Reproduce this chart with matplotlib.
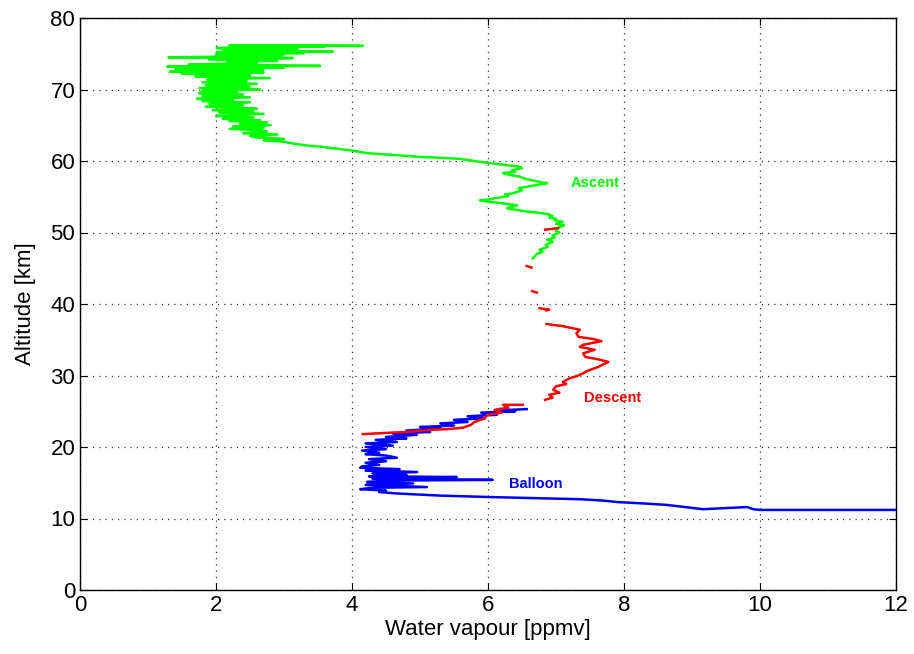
import numpy as np
import matplotlib
matplotlib.use("Agg")
import matplotlib.pyplot as plt

# Ascent (green): altitude [km], water vapour [ppmv]
asc_alt = [46.4, 47.0, 47.3, 47.6, 48.0, 48.3, 48.7, 49.0, 49.3, 49.6, 50.0, 50.2, 50.6, 51.0,
           51.2, 51.5, 51.7, 51.9, 52.1, 52.3, 52.6, 52.8, 52.9, 53.1, 53.2, 53.4, 53.6, 53.8,
           54.1, 54.3, 54.5, 54.6, 54.8, 55.1, 55.3, 55.5, 55.9, 56.2, 56.4, 56.7, 56.9, 57.0,
           57.2, 57.5, 57.8, 58.1, 58.3, 58.5, 58.7, 59.0, 59.2, 59.5, 59.7, 60.0, 60.3, 60.6,
           60.8, 61.1, 61.5, 62.0, 62.2, 62.5,
           62.7, 62.9, 63.1, 63.3, 63.5, 63.7, 63.9, 64.1, 64.3, 64.5, 64.7, 64.8, 65.0, 65.2,
           65.4, 65.6, 65.7, 65.9, 66.1, 66.3, 66.4, 66.6, 66.8, 66.9, 67.1, 67.3, 67.4, 67.6,
           67.8, 68.0, 68.2, 68.4, 68.5, 68.7, 68.9, 69.1, 69.3, 69.5, 69.6, 69.8, 70.0, 70.2,
           70.4, 70.6, 70.8, 71.0, 71.2, 71.4, 71.6, 71.8, 72.0, 72.2, 72.4, 72.5, 72.7, 72.9,
           73.1, 73.2, 73.3, 73.5, 73.7, 73.9, 74.0, 74.2, 74.4, 74.5, 74.7, 74.9, 75.1, 75.2,
           75.3, 75.5, 75.7, 75.8, 76.0, 76.1, 76.1, 76.2]
asc_h2o = [6.66, 6.72, 6.80, 6.76, 6.88, 6.85, 6.95, 6.87, 6.98, 6.95, 7.05, 7.00, 7.02, 7.12,
           7.00, 7.10, 6.98, 7.00, 6.90, 6.95, 6.87, 6.70, 6.60, 6.45, 6.40, 6.28, 6.36, 6.43,
           6.20, 6.00, 5.88, 6.00, 6.10, 6.30, 6.25, 6.37, 6.50, 6.45, 6.57, 6.75, 6.87, 6.80,
           6.70, 6.55, 6.47, 6.30, 6.22, 6.40, 6.35, 6.50, 6.47, 6.20, 6.03, 5.80, 5.59, 4.96,
           4.66, 4.22, 3.97, 3.53, 3.30, 3.10,
           2.99, 2.70, 3.00, 2.60, 2.50, 2.90, 2.40, 2.75, 2.65, 2.20, 2.70, 2.25, 2.80, 2.35,
           2.75, 2.20, 2.65, 2.10, 2.55, 2.00, 2.21, 2.70, 2.05, 2.55, 1.95, 2.60, 2.46, 1.85,
           2.40, 1.90, 2.50, 1.80, 2.25, 1.72, 2.50, 1.80, 2.40, 1.75, 2.31, 1.80, 2.65, 1.76,
           2.50, 1.85, 2.60, 1.80, 2.45, 1.87, 2.79, 1.70, 2.50, 1.50, 2.70, 1.32, 2.69, 1.40,
           3.00, 1.28, 3.53, 1.60, 2.60, 2.16, 2.90, 1.90, 3.13, 1.30, 2.99, 2.00, 3.30, 2.01,
           3.72, 2.10, 3.20, 2.01, 3.60, 2.30, 4.16, 2.20]

# Descent (red): NaN separates the data gaps
des_alt = [50.4, 50.6, np.nan, 45.3, 45.1, np.nan, 41.8, 41.6, np.nan, 39.4, 39.2, 39.1, np.nan,
           37.2, 36.9, 36.4, 35.9, 35.4, 35.1, 34.8, 34.3, 34.0, 33.6, 33.1, 32.6, 32.2, 31.9,
           31.2, 30.6, 30.3, 29.9, 29.6, 29.1, 28.8, 28.5, 28.0, 27.6, 27.3, 26.9, 26.6, np.nan,
           25.9, 25.9, 25.5, 25.2, 24.8, 24.5, 24.0, 23.5, 23.1, 22.7, 22.5, 22.4, 22.1, 22.0, 21.8]
des_h2o = [6.84, 7.03, np.nan, 6.57, 6.64, np.nan, 6.65, 6.72, np.nan, 6.76, 6.90, 6.86, np.nan,
           6.86, 7.10, 7.35, 7.30, 7.33, 7.55, 7.67, 7.40, 7.35, 7.57, 7.40, 7.43, 7.65, 7.77,
           7.62, 7.45, 7.40, 7.30, 7.20, 7.10, 7.15, 7.00, 6.96, 7.05, 6.90, 6.95, 6.84, np.nan,
           6.51, 6.22, 6.30, 6.10, 6.20, 5.99, 5.95, 5.80, 5.75, 5.63, 5.40, 5.15, 4.80, 4.56, 4.16]

# Balloon (blue)
bal_alt = [25.3, 25.1, 25.0, 24.8, 24.5, 24.3, 24.0, 23.8, 23.5, 23.3, 23.0, 22.8, 22.6, 22.3,
           22.1, 21.9, 21.7, 21.4, 21.2, 21.0, 20.7, 20.5, 20.2, 20.0, 19.7, 19.5, 19.2, 19.0,
           18.8, 18.5, 18.3, 18.0, 17.8, 17.5, 17.3, 17.1, 16.9, 16.7, 16.5, 16.3, 16.1, 15.9,
           15.8, 15.6, 15.5, 15.4, 15.3, 15.1, 14.9, 14.7, 14.4, 14.3, 14.1, 13.9, 13.7, 13.5,
           13.2, 13.0, 12.8, 12.7, 12.5, 12.3, 12.1, 11.9, 11.6, 11.3, 11.6, 11.3, 11.2, 11.2]
bal_h2o = [6.57, 6.10, 6.40, 5.90, 6.13, 5.70, 5.95, 5.50, 5.70, 5.30, 5.50, 5.00, 5.30, 4.80,
           5.15, 4.60, 4.95, 4.50, 4.80, 4.35, 4.66, 4.20, 4.60, 4.20, 4.50, 4.15, 4.40, 4.20,
           4.50, 4.66, 4.25, 4.50, 4.20, 4.40, 4.15, 4.12, 4.70, 4.20, 4.96, 4.30, 4.80, 4.25,
           5.54, 4.30, 4.80, 6.07, 4.50, 4.22, 4.90, 4.20, 5.10, 4.30, 4.12, 4.50, 4.40, 4.66,
           5.30, 6.03, 6.90, 7.35, 7.70, 7.90, 8.30, 8.63, 8.90, 9.16, 9.81, 9.90, 10.00, 12.00]

xticks = [0, 2, 4, 6, 8, 10, 12]
yticks = [0, 10, 20, 30, 40, 50, 60, 70, 80]

plt.rcParams['font.family'] = ['Liberation Sans', 'DejaVu Sans']

fig = plt.figure(figsize=(9.14, 6.54), dpi=100)
ax = fig.add_axes([80/914, 64/654, 816/914, 572/654])

ax.plot(asc_h2o, asc_alt, color='#00ff00', lw=1.8, zorder=3)
ax.plot(bal_h2o, bal_alt, color='#0000ff', lw=1.8, zorder=3)
ax.plot(des_h2o, des_alt, color='#ff0000', lw=1.8, zorder=4)

ax.text(7.22, 56.9, 'Ascent', color='#00ff00', fontsize=10.5, fontweight='bold',
        va='center', ha='left')
ax.text(7.41, 26.9, 'Descent', color='#ff0000', fontsize=10.5, fontweight='bold',
        va='center', ha='left')
ax.text(6.31, 14.8, 'Balloon', color='#0000ff', fontsize=10.5, fontweight='bold',
        va='center', ha='left')

ax.set_xlim(0, 12)
ax.set_ylim(0, 80)
ax.set_xticks(xticks)
ax.set_yticks(yticks)
ax.tick_params(direction='in', length=5, width=0.8, labelsize=16, top=True, right=True)
ax.grid(True, linestyle=(0, (1, 4)), color='#333333', linewidth=0.9)
ax.set_axisbelow(True)
for s in ax.spines.values():
    s.set_linewidth(1.0)
ax.set_xlabel('Water vapour [ppmv]', fontsize=16, labelpad=2)
ax.set_ylabel('Altitude [km]', fontsize=16, labelpad=10)

fig.savefig('out.png', dpi=100)
